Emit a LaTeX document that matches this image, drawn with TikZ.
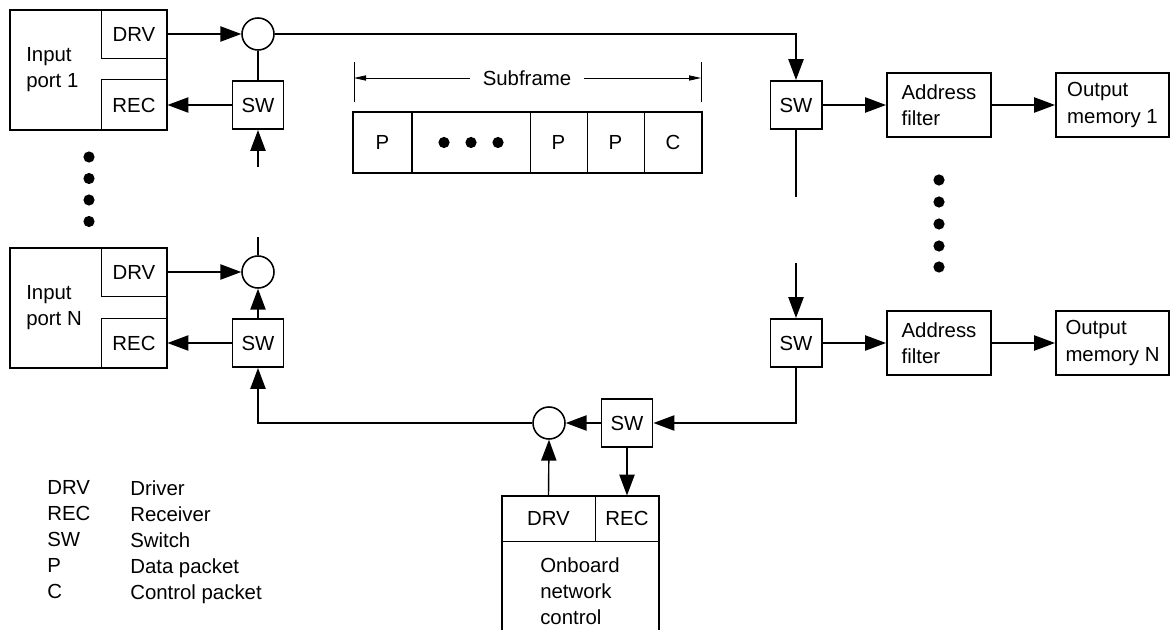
\documentclass[tikz,border=0pt]{standalone}
\usepackage{fontspec}
\setmainfont{Liberation Sans}
\usetikzlibrary{arrows.meta}

\begin{document}
\begin{tikzpicture}[
  x=0.025cm, y=-0.025cm,
  font=\fontsize{14.5}{18.5}\selectfont,
  box/.style={draw, line width=1.4pt, inner sep=0pt, align=left},
  sub/.style={draw, line width=0.7pt, inner sep=0pt},
  sw/.style={draw, line width=1.4pt, minimum width=1.275cm,
    minimum height=1.2cm, inner sep=0pt},
  junc/.style={draw, circle, line width=1.1pt, minimum size=0.8cm, inner sep=0pt},
  txt/.style={anchor=north west, inner sep=0pt, align=left},
  arr/.style={-{Triangle[length=0.52cm, width=0.38cm]}, line width=1pt},
  wire/.style={line width=1pt},
  dim/.style={-{Triangle[length=0.3cm, width=0.13cm]}, line width=0.6pt}
]
\useasboundingbox (0,0) rectangle (1170,630);

% Input port 1
\node[box, minimum width=3.925cm, minimum height=3cm] (port1) at (88.5,70) {};
\node[sub, minimum width=1.65cm, minimum height=1.2cm] (drv1) at (134,34) {DRV};
\node[sub, minimum width=1.65cm, minimum height=1.25cm] (rec1) at (134,105) {REC};
\node[txt] (port1txt) at (26,47) {Input\\port 1};
\node[junc] (c1) at (258,34) {};
\node[sw] (sw1) at (258,105) {SW};
\coordinate (sw1in) at (258,167);

% Input port N
\node[box, minimum width=3.925cm, minimum height=3cm] (portN) at (88.5,308) {};
\node[sub, minimum width=1.65cm, minimum height=1.225cm] (drvN) at (134,272) {DRV};
\node[sub, minimum width=1.65cm, minimum height=1.25cm] (recN) at (134,343) {REC};
\node[txt] (portNtxt) at (26,285) {Input\\port N};
\node[junc] (cN) at (258,272) {};
\node[sw] (swN) at (258,343) {SW};
\coordinate (cNin) at (258,237);

% Output side
\node[sw] (swr1) at (796,105) {SW};
\node[box, minimum width=2.6cm, minimum height=1.6cm] (af1) at (939,105) {Address\\filter};
\node[box, minimum width=2.825cm, minimum height=1.6cm] (om1) at (1112.5,105) {Output\\memory 1};
\coordinate (swr1out) at (796,197);
\node[sw] (swrN) at (796,343) {SW};
\node[box, minimum width=2.6cm, minimum height=1.6cm] (afN) at (939,343) {Address\\filter};
\node[box, minimum width=2.825cm, minimum height=1.6cm] (omN) at (1112.5,343) {Output\\memory N};
\coordinate (swrNin) at (796,263);

% Onboard network control
\node[junc] (cb) at (549,423) {};
\node[sw] (swb) at (627,423) {SW};
\node[box, minimum width=3.925cm, minimum height=4.1cm] (obc) at (580.5,578) {};
\node[sub, minimum width=2.325cm, minimum height=1.125cm] (drv0) at (548.5,518.5) {DRV};
\node[sub, minimum width=1.6cm, minimum height=1.125cm] (rec0) at (627,518.5) {REC};
\node[txt] (obctxt) at (540,557) {Onboard\\network\\control};

% Subframe
\node[box, minimum width=8.725cm, minimum height=1.525cm] (frame) at (527.5,142.5) {};
\node[sub, minimum width=1.475cm, minimum height=1.525cm] (pk1) at (382.5,142.5) {P};
\node[sub, minimum width=2.95cm, minimum height=1.525cm] (pkdots) at (471,142.5) {};
\node[sub, minimum width=1.425cm, minimum height=1.525cm] (pk2) at (558.5,142.5) {P};
\node[sub, minimum width=1.425cm, minimum height=1.525cm] (pk3) at (615.5,142.5) {P};
\node[sub, minimum width=1.45cm, minimum height=1.525cm] (pkc) at (673,142.5) {C};
\fill (444,142.5) circle (0.14cm) (471,142.5) circle (0.14cm) (498,142.5) circle (0.14cm);
\node[inner xsep=0.325cm, inner ysep=0pt] (sublbl) at (527,78) {Subframe};
\coordinate (sfl) at (354,78);
\coordinate (sfr) at (701,78);
\draw[line width=0.6pt] (354,62) -- (354,102) (701,62) -- (701,102);
\draw[dim] (sublbl.west) -- (sfl);
\draw[dim] (sublbl.east) -- (sfr);

% Ellipsis dots
\fill (89,157) circle (0.14cm) (89,178.5) circle (0.14cm)
      (89,200) circle (0.14cm) (89,221.5) circle (0.14cm);
\fill (939,180) circle (0.14cm) (939,202) circle (0.14cm) (939,224) circle (0.14cm)
      (939,246) circle (0.14cm) (939,267) circle (0.14cm);

% Connectors, port 1
\draw[arr] (drv1.east) -- (c1.west);
\draw[arr] (sw1.west) -- (rec1.east);
\draw[wire] (sw1.north) -- (c1.south);
\draw[arr] (sw1in) -- (sw1.south);
\draw[arr] (c1.east) -| (swr1.north);

% Connectors, port N
\draw[arr] (drvN.east) -- (cN.west);
\draw[arr] (swN.west) -- (recN.east);
\draw[arr] (swN.north) -- (cN.south);
\draw[wire] (cNin) -- (cN.north);

% Connectors, output side
\draw[arr] (swr1.east) -- (af1.west);
\draw[arr] (af1.east) -- (om1.west);
\draw[wire] (swr1.south) -- (swr1out);
\draw[arr] (swrNin) -- (swrN.north);
\draw[arr] (swrN.east) -- (afN.west);
\draw[arr] (afN.east) -- (omN.west);

% Loop through onboard control
\draw[arr] (swrN.south) |- (swb.east);
\draw[arr] (swb.west) -- (cb.east);
\draw[arr] (cb.west) -| (swN.south);
\draw[arr] (drv0.north) -- (cb.south);
\draw[arr] (swb.south) -- (rec0.north);

% Legend
\node[txt] (legkey) at (47,480) {DRV\\REC\\SW\\P\\C};
\node[txt] (legdesc) at (130,480) {Driver\\Receiver\\Switch\\Data packet\\Control packet};

\end{tikzpicture}
\end{document}
